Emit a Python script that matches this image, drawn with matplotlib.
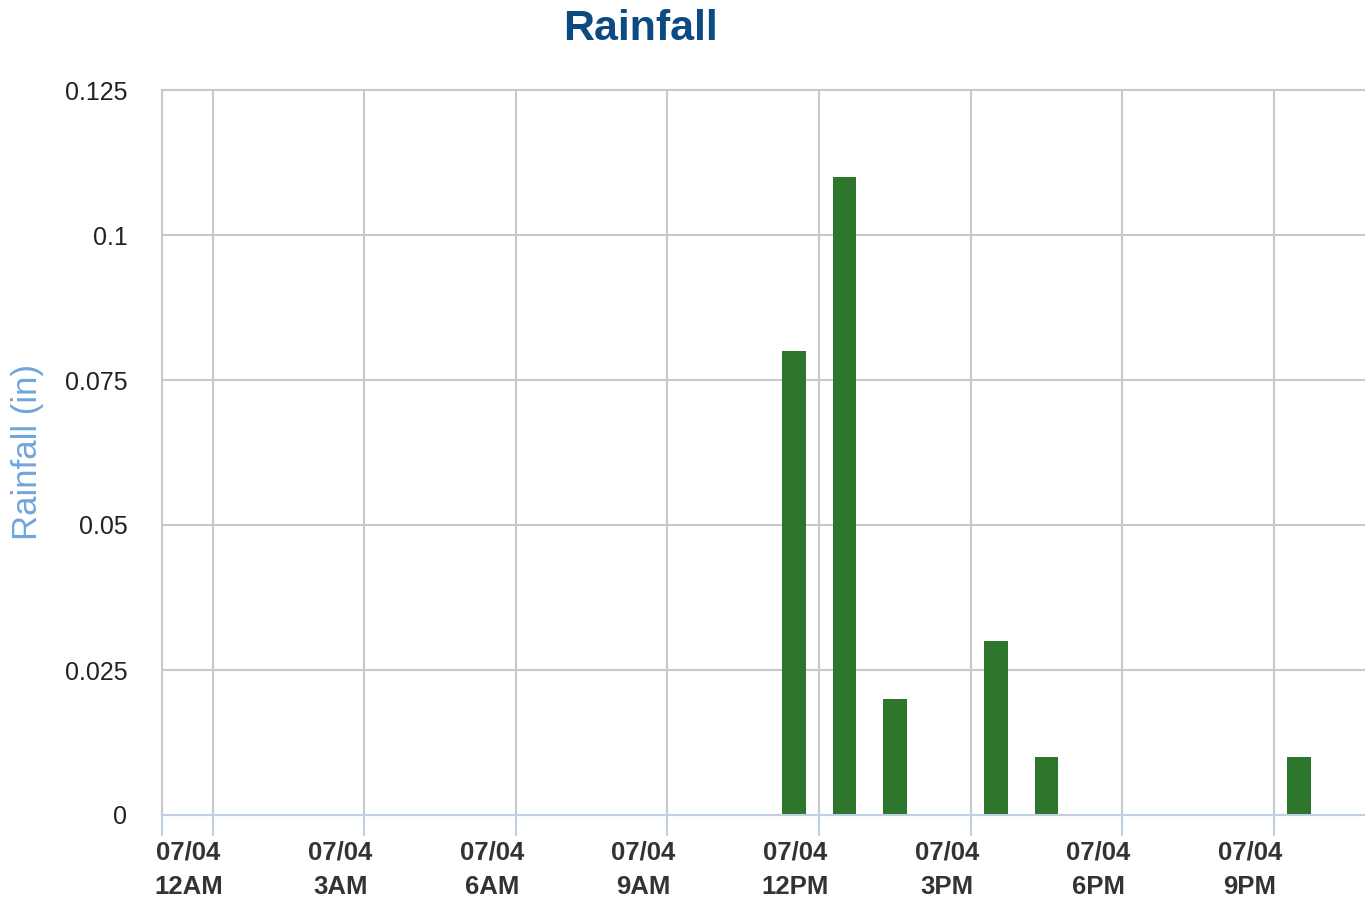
import matplotlib
matplotlib.use('Agg')
import matplotlib.pyplot as plt
import matplotlib.dates as mdates
import matplotlib.transforms as mtransforms
import pandas as pd

plt.rcParams['font.family'] = ['Liberation Sans', 'DejaVu Sans']

# hourly rainfall (in), bars sit at the middle of each hour
bar_times = ['2024-07-04 11:30', '2024-07-04 12:30', '2024-07-04 13:30',
             '2024-07-04 15:30', '2024-07-04 16:30', '2024-07-04 21:30']
rain_in = [0.08, 0.11, 0.02, 0.03, 0.01, 0.01]

# x ticks every 3 hours (first one is the chart start, left unlabeled)
tick_times = ['2024-07-03 23:00', '2024-07-04 00:00', '2024-07-04 03:00',
              '2024-07-04 06:00', '2024-07-04 09:00', '2024-07-04 12:00',
              '2024-07-04 15:00', '2024-07-04 18:00', '2024-07-04 21:00']
tick_labels = ['', '07/04\n12AM', '07/04\n3AM', '07/04\n6AM', '07/04\n9AM',
               '07/04\n12PM', '07/04\n3PM', '07/04\n6PM', '07/04\n9PM']

y_ticks = [0, 0.025, 0.05, 0.075, 0.1, 0.125]
y_labels = ['0', '0.025', '0.05', '0.075', '0.1', '0.125']

x_start = '2024-07-03 23:02'
x_end = '2024-07-04 22:48'

fig = plt.figure(figsize=(13.65, 9.02), dpi=100)
ax = fig.add_axes([162 / 1365, 1 - 815 / 902, 1 - 162 / 1365, 725 / 902])

ax.bar(pd.to_datetime(bar_times), rain_in, width=28 / 1440,
       color='#2e762c', zorder=3)

ax.set_xlim(pd.Timestamp(x_start), pd.Timestamp(x_end))
ax.set_ylim(0, 0.125)

ax.set_xticks(mdates.date2num(pd.to_datetime(tick_times)))
ax.set_xticklabels(tick_labels)
ax.set_yticks(y_ticks)
ax.set_yticklabels(y_labels)

# grid and axes styling
ax.grid(True, color='#c8c8c8', linewidth=1.5)
ax.set_axisbelow(True)
for gl in ax.get_ygridlines() + ax.get_xgridlines():
    gl.set_clip_on(False)
for side in ['top', 'right', 'left']:
    ax.spines[side].set_visible(False)
ax.spines['bottom'].set_color('#c0d0e0')
ax.spines['bottom'].set_linewidth(1.5)
ax.spines['bottom'].set_zorder(4)

ax.tick_params(axis='y', length=0, pad=25, labelsize=18, labelcolor='#222222')
ax.tick_params(axis='x', direction='out', length=15, width=1.5,
               color='#c0d0e0', pad=3, labelsize=18.5, labelcolor='#333333')

# shift x labels a bit to the left of their ticks
offset = mtransforms.ScaledTranslation(-0.24, 0, fig.dpi_scale_trans)
for lab in ax.get_xticklabels():
    lab.set_fontweight('bold')
    lab.set_linespacing(1.6)
    lab.set_transform(lab.get_transform() + offset)

ax.set_ylabel('Rainfall (in)', fontsize=25, color='#6fa6dc')
ax.yaxis.label.set_va('center')
ax.yaxis.set_label_coords(-0.112, 0.5)

fig.text(640 / 1365, 1 - 40 / 902, 'Rainfall', ha='center', va='baseline',
         fontsize=31, fontweight='bold', color='#0c4a82')

plt.savefig('out.png', dpi=100)
